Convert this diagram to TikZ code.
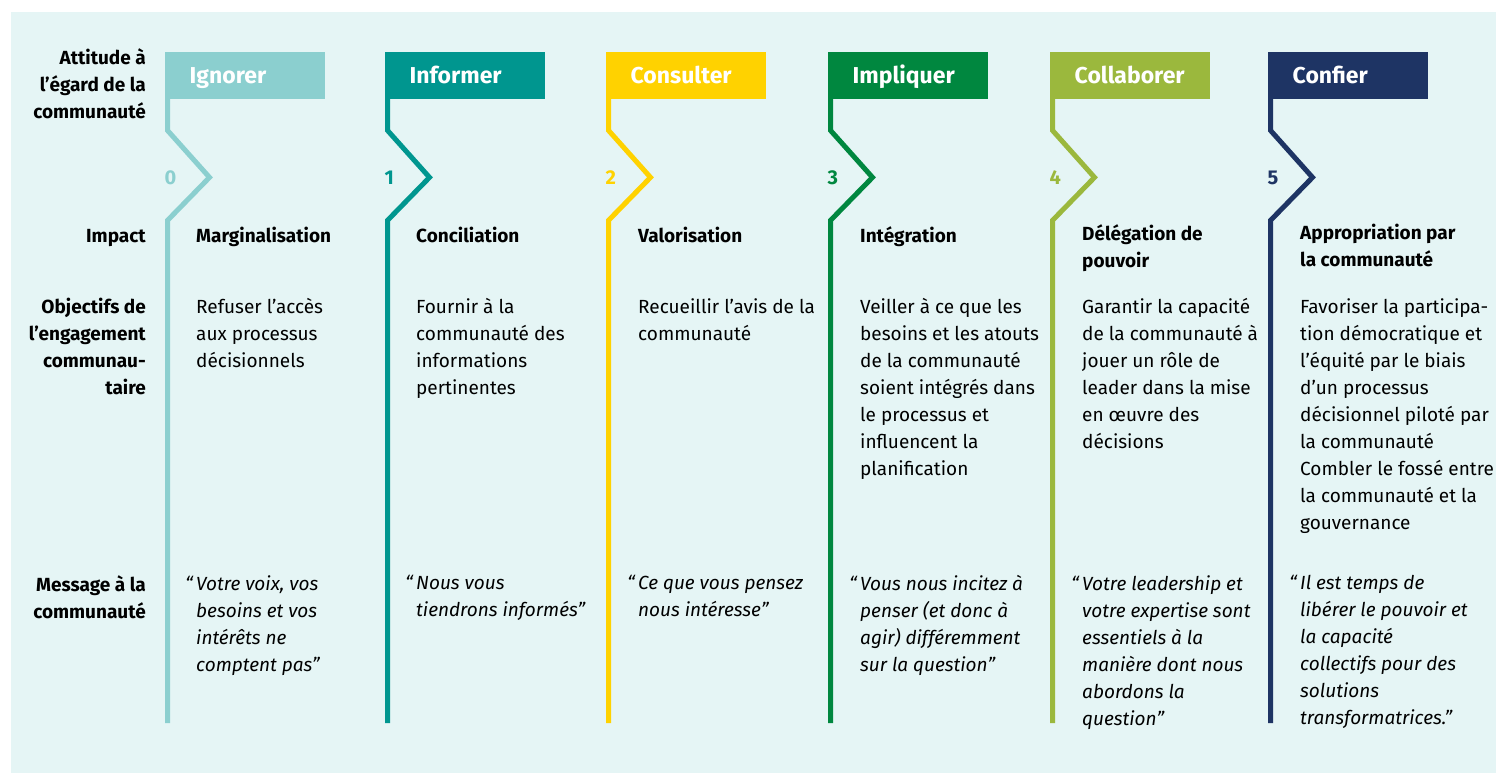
\documentclass[tikz,border=0pt]{standalone}
\usepackage{fontspec}
\setmainfont{Fira Sans}

\definecolor{bgpale}{HTML}{E5F5F5}
\definecolor{ignore}{HTML}{8BCFCF}
\definecolor{inform}{HTML}{00968F}
\definecolor{consult}{HTML}{FFD200}
\definecolor{impliq}{HTML}{00873F}
\definecolor{collab}{HTML}{9BB83D}
\definecolor{confie}{HTML}{1E3464}

\newcommand\opq{\llap{“\,}}

\tikzset{
	stage line/.style={line width=5pt, line join=miter},
	flag box/.style={anchor=north west, minimum height=47pt, inner xsep=24.5pt, inner ysep=0pt,
		text width=111pt, text height=15pt, text depth=0pt, align=left, text=white,
		font=\fontsize{23}{26}\selectfont\bfseries},
	stage num/.style={anchor=base west, inner sep=0pt, font=\fontsize{20}{24}\selectfont\bfseries},
	% first baseline sits on the given point
	txt/.style={inner sep=0pt, yshift=18.9pt, execute at begin node=\strut},
	row label/.style={txt, anchor=north east, align=right, font=\fontsize{19}{27}\selectfont\bfseries},
	impact txt/.style={txt, anchor=north west, align=left, font=\fontsize{19}{27}\selectfont\bfseries},
	body txt/.style={txt, anchor=north west, align=left, font=\fontsize{19}{27}\selectfont},
	msg txt/.style={txt, anchor=north west, align=left, font=\fontsize{19}{27}\selectfont\itshape}
}

\begin{document}
\begin{tikzpicture}[x=1pt,y=-1pt]
	\useasboundingbox (0,0) rectangle (1496,773);
	\fill[bgpale] (11,12) rectangle (1496,773);

	% row labels
	\node[row label] (lblatt) at (146,67) {Attitude à\\l’égard de la\\communauté};
	\node[row label] (lblimp) at (146,242) {Impact};
	\node[row label] (lblobj) at (146,317) {Objectifs de\\l’engagement\\communau-\\taire};
	\node[row label] (lblmsg) at (146,594) {Message à la\\communauté};

	% stages
	\foreach \i/\cx/\col/\name in {0/167.5/ignore/Ignorer,1/387.5/inform/Informer,2/608.5/consult/Consulter,
		3/830.5/impliq/Impliquer,4/1052.5/collab/Collaborer,5/1270.5/confie/Confier}{
		\node[flag box, fill=\col] (flag\i) at (\cx-2.5,52) {\name};
		\coordinate (bot\i) at (\cx,723);
		\draw[stage line, \col] ([xshift=2.5pt,yshift=1pt]flag\i.south west) -- ++(0,32) -- ++(42,47) -- ++(-42,43) -- (bot\i);
		\node[stage num, text=\col] (num\i) at (\cx-3,184) {\i};
	}

	% impact
	\node[impact txt] (impact0) at (196,242) {Marginalisation};
	\node[impact txt] (impact1) at (416,242) {Conciliation};
	\node[impact txt] (impact2) at (638,242) {Valorisation};
	\node[impact txt] (impact3) at (860,242) {Intégration};
	\node[impact txt] (impact4) at (1082,243) {Délégation de\\pouvoir};
	\node[impact txt] (impact5) at (1300,243) {Appropriation par\\la communauté};

	% objectifs
	\node[body txt] (obj0) at (196,317) {Refuser l’accès\\aux processus\\décisionnels};
	\node[body txt] (obj1) at (416,317) {Fournir à la\\communauté des\\informations\\pertinentes};
	\node[body txt] (obj2) at (638,317) {Recueillir l’avis de la\\communauté};
	\node[body txt] (obj3) at (860,317) {Veiller à ce que les\\besoins et les atouts\\de la communauté\\soient intégrés dans\\le processus et\\influencent la\\planification};
	\node[body txt] (obj4) at (1082,317) {Garantir la capacité\\de la communauté à\\jouer un rôle de\\leader dans la mise\\en œuvre des\\décisions};
	\node[body txt] (obj5) at (1300,317) {Favoriser la participa-\\tion démocratique et\\l’équité par le biais\\d’un processus\\décisionnel piloté par\\la communauté\\Combler le fossé entre\\la communauté et la\\gouvernance};

	% messages
	\node[msg txt] (msg0) at (196,594) {\opq Votre voix, vos\\besoins et vos\\intérêts ne\\comptent pas”};
	\node[msg txt] (msg1) at (416,594) {\opq Nous vous\\tiendrons informés”};
	\node[msg txt] (msg2) at (638,594) {\opq Ce que vous pensez\\nous intéresse”};
	\node[msg txt] (msg3) at (860,594) {\opq Vous nous incitez à\\penser (et donc à\\agir) différemment\\sur la question”};
	\node[msg txt] (msg4) at (1082,594) {\opq Votre leadership et\\votre expertise sont\\essentiels à la\\manière dont nous\\abordons la\\question”};
	\node[msg txt] (msg5) at (1300,594) {\opq Il est temps de\\libérer le pouvoir et\\la capacité\\collectifs pour des\\solutions\\transformatrices.”};
\end{tikzpicture}
\end{document}
